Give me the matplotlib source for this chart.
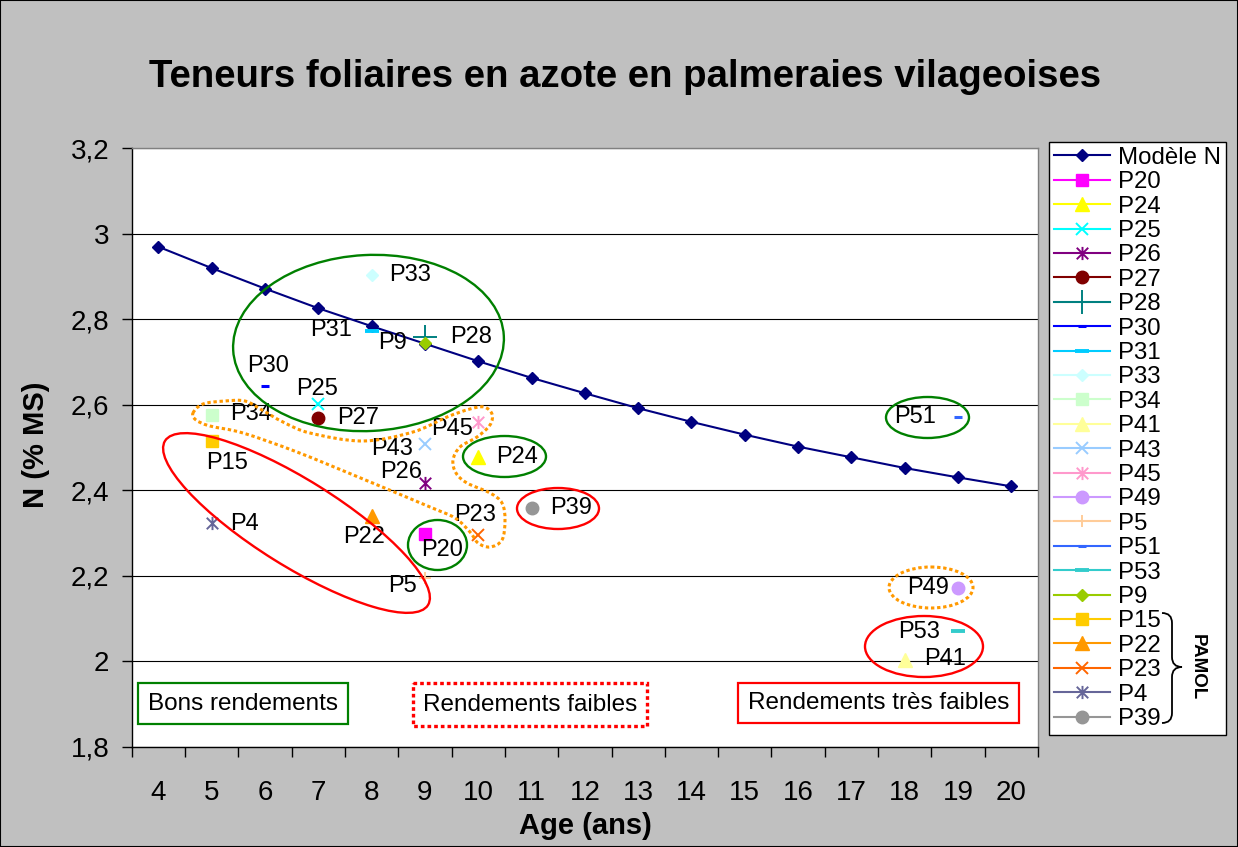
import numpy as np
import matplotlib
matplotlib.use('Agg')
import matplotlib.pyplot as plt
from matplotlib.patches import Ellipse, Rectangle, PathPatch
from matplotlib.path import Path
from matplotlib.transforms import Affine2D

plt.rcParams['font.family'] = ['Liberation Sans', 'DejaVu Sans']

# --- data -------------------------------------------------------------
ages = list(range(4, 21))
model_n = [2.97, 2.92, 2.872, 2.826, 2.784, 2.743, 2.702, 2.663, 2.627,
           2.592, 2.560, 2.530, 2.502, 2.477, 2.452, 2.430, 2.409]

plot_names = ['P20', 'P24', 'P25', 'P26', 'P27', 'P28', 'P30', 'P31', 'P33',
              'P34', 'P41', 'P43', 'P45', 'P49', 'P5', 'P51', 'P53', 'P9',
              'P15', 'P22', 'P23', 'P4', 'P39']
plot_age = [9, 10, 7, 9, 7, 9, 6, 8, 8, 5, 18, 9, 10, 19, 9, 19, 19, 9,
            5, 8, 10, 5, 11]
plot_n = [2.297, 2.477, 2.603, 2.418, 2.568, 2.759, 2.644, 2.772, 2.905,
          2.576, 2.003, 2.508, 2.560, 2.171, 2.195, 2.572, 2.071, 2.745,
          2.516, 2.340, 2.296, 2.323, 2.358]

y_ticks = [1.8, 2.0, 2.2, 2.4, 2.6, 2.8, 3.0, 3.2]
y_tick_labels = ['1,8', '2', '2,2', '2,4', '2,6', '2,8', '3', '3,2']

title = 'Teneurs foliaires en azote en palmeraies vilageoises'

# --- styles -----------------------------------------------------------
AST = Path([(-1, -1), (1, 1), (-1, 1), (1, -1), (0, -1.15), (0, 1.15)],
           [Path.MOVETO, Path.LINETO, Path.MOVETO, Path.LINETO,
            Path.MOVETO, Path.LINETO])

# color, marker, markersize, markeredgewidth
styles = {
    'P20': ('#FF00FF', 's', 8.5, 1.0),
    'P24': ('#FFFF00', '^', 9.5, 1.0),
    'P25': ('#00FFFF', 'x', 9, 1.4),
    'P26': ('#800080', AST, 9.5, 1.4),
    'P27': ('#800000', 'o', 9, 1.0),
    'P28': ('#008080', '+', 17, 1.4),
    'P30': ('#0000FF', '_', 5.5, 2.2),
    'P31': ('#00CCFF', '_', 9.5, 2.8),
    'P33': ('#CCFFFF', 'D', 6.5, 1.0),
    'P34': ('#CCFFCC', 's', 8.5, 1.0),
    'P41': ('#FFFF99', '^', 9.5, 1.0),
    'P43': ('#99CCFF', 'x', 9, 1.4),
    'P45': ('#FF99CC', AST, 9.5, 1.4),
    'P49': ('#CC99FF', 'o', 9, 1.0),
    'P5': ('#FFCC99', '+', 9, 1.4),
    'P51': ('#3366FF', '_', 5.5, 2.2),
    'P53': ('#33CCCC', '_', 9.5, 2.8),
    'P9': ('#99CC00', 'D', 6.5, 1.0),
    'P15': ('#FFCC00', 's', 8.5, 1.0),
    'P22': ('#FF9900', '^', 9.5, 1.0),
    'P23': ('#FF6600', 'x', 9, 1.4),
    'P4': ('#666699', AST, 9.5, 1.4),
    'P39': ('#969696', 'o', 9, 1.0),
}

# label offsets in pixels (dx, dy up) and horizontal alignment
label_pos = {
    'P33': (18, 0, 'left'), 'P31': (-20, 1, 'right'), 'P9': (-18, 0, 'right'),
    'P28': (25, 0, 'left'), 'P30': (3, 20, 'center'), 'P25': (-1, 15, 'center'),
    'P27': (19, 0, 'left'), 'P34': (18, 1, 'left'), 'P15': (15, -22, 'center'),
    'P45': (-5, -7, 'right'), 'P43': (-12, -5, 'right'), 'P26': (-3, 11, 'right'),
    'P4': (18, -1, 'left'), 'P22': (-8, -21, 'center'), 'P20': (17, -16, 'center'),
    'P5': (-8, -8, 'right'), 'P23': (-3, 20, 'center'), 'P24': (18, 0, 'left'),
    'P39': (19, 0, 'left'), 'P51': (-22, 0, 'right'), 'P49': (-9, 0, 'right'),
    'P53': (-18, -1, 'right'), 'P41': (19, 1, 'left'),
}

W, H = 1238, 847
fig = plt.figure(figsize=(W / 100, H / 100), dpi=100, facecolor='#C0C0C0')
pix = Affine2D().scale(1 / W, -1 / H).translate(0, 1) + fig.transFigure

ax = fig.add_axes([131.7 / W, 1 - 746.5 / H, (1038 - 131.7) / W, (746.5 - 148.5) / H])
ax.set_facecolor('white')
ax.set_xlim(3.5, 20.5)
ax.set_ylim(1.8, 3.2)

for s in ['top', 'right']:
    ax.spines[s].set_color('#808080')
for s in ['left', 'bottom']:
    ax.spines[s].set_color('black')
for s in ax.spines.values():
    s.set_linewidth(1.0)

ax.set_yticks(y_ticks)
ax.set_yticklabels(y_tick_labels)
ax.set_xticks(np.arange(3.5, 21, 1.0))
ax.set_xticklabels([])
ax.set_xticks(ages, minor=True)
ax.set_xticklabels([str(a) for a in ages], minor=True)
ax.tick_params(axis='y', which='major', length=7, width=1, pad=9, labelsize=20)
ax.tick_params(axis='x', which='major', length=7, width=1)
ax.tick_params(axis='x', which='minor', length=0, pad=24, labelsize=20)
ax.yaxis.grid(True, color='black', linewidth=0.8)
ax.set_axisbelow(True)

model_line, = ax.plot(ages, model_n, color='#000080', lw=1.5, marker='D',
                      ms=6.5, mfc='#000080', mec='#000080', label='Modèle N', zorder=3)

handles = [model_line]
for name, a, n in zip(plot_names, plot_age, plot_n):
    c, m, ms, mew = styles[name]
    ln, = ax.plot([a], [n], color=c, lw=1.5, marker=m, ms=ms, mfc=c, mec=c,
                  mew=mew, label=name, zorder=4)
    handles.append(ln)
    dx, dy, ha = label_pos[name]
    ax.annotate(name, (a, n), xytext=(dx, dy), textcoords='offset pixels',
                ha=ha, va='center', fontsize=17, zorder=5)

leg = fig.legend(handles, [h.get_label() for h in handles], loc='upper left',
                 bbox_to_anchor=(1049 / W, 1 - 142 / H), borderaxespad=0,
                 fancybox=False, edgecolor='black', framealpha=1, fontsize=17.3,
                 labelspacing=0.1, handlelength=2.33, handletextpad=0.34,
                 borderpad=0.2, numpoints=1)
leg.get_frame().set_linewidth(1.0)

# titles
fig.text(625 / W, 1 - 87 / H, title, ha='center', va='baseline',
         fontsize=27.6, fontweight='bold')
fig.text(585 / W, 1 - 834 / H, 'Age (ans)', ha='center', va='baseline',
         fontsize=21, fontweight='bold')
fig.text(36 / W, 1 - 445 / H, 'N (% MS)', ha='center', va='center',
         rotation=90, fontsize=21, fontweight='bold')

# --- annotations (image pixel coordinates) ----------------------------
GREEN, RED, ORANGE = '#008000', '#FF0000', '#FF9900'
dotted = (0, (1.1, 0.9))
rings = [
    (368.5, 343, 271, 176, -3, GREEN, '-'),
    (296.5, 523, 310, 86, 32, RED, '-'),
    (437.5, 545, 59, 50, 0, GREEN, '-'),
    (504.5, 456.5, 83, 41, 0, GREEN, '-'),
    (558, 508.5, 82, 41, 0, RED, '-'),
    (927.5, 417.5, 83, 41, 0, GREEN, '-'),
    (931, 587.5, 84, 41, 0, ORANGE, dotted),
    (924, 646.5, 118, 61, 0, RED, '-'),
]
for cx, cy, w, h, ang, col, ls in rings:
    lw = 2.2 if ls is dotted else 1.7
    fig.add_artist(Ellipse((cx, cy), w, h, angle=ang, transform=pix, fill=False,
                           edgecolor=col, linewidth=lw, linestyle=ls, zorder=6))

# free-form dotted outline (closed Catmull-Rom curve drawn as Bezier path)
blob = np.array([(193, 413), (203, 404), (225, 401), (245, 401), (262, 410),
                 (283, 422), (310, 433), (363, 441), (413, 432), (447, 417),
                 (470, 409), (484, 407), (492, 414), (490, 425), (477, 437),
                 (460, 447), (453, 460), (456, 473), (467, 483), (490, 493),
                 (502, 503), (505, 520), (502, 540), (490, 547), (478, 543),
                 (470, 532), (455, 518), (430, 507), (363, 479), (297, 452),
                 (243, 433), (210, 426), (196, 420)], dtype=float)
nb = len(blob)
verts = [blob[0]]
codes = [Path.MOVETO]
for i in range(nb):
    p0, p1, p2, p3 = blob[i - 1], blob[i], blob[(i + 1) % nb], blob[(i + 2) % nb]
    verts += [p1 + (p2 - p0) / 6, p2 - (p3 - p1) / 6, p2]
    codes += [Path.CURVE4] * 3
fig.add_artist(PathPatch(Path(verts, codes), transform=pix, fill=False,
                         edgecolor=ORANGE, linewidth=2.2, linestyle=dotted, zorder=6))

# text boxes
boxes = [
    ('Bons rendements', 138, 683, 348, 724, GREEN, '-'),
    ('Rendements faibles', 413, 683, 647, 726, RED, dotted),
    ('Rendements très faibles', 738, 683, 1019, 723, RED, '-'),
]
for txt, x0, y0, x1, y1, col, ls in boxes:
    lw = 2.4 if ls is dotted else 1.6
    fig.add_artist(Rectangle((x0, y0), x1 - x0, y1 - y0, transform=pix,
                             facecolor='white', edgecolor=col, linewidth=lw,
                             linestyle=ls, zorder=6))
    fig.text((x0 + x1) / 2 / W, 1 - (y0 + y1) / 2 / H, txt, ha='center',
             va='center', fontsize=17.5, zorder=7)

# PAMOL brace in the legend
brace = Path([(1162, 613), (1172, 613), (1172, 623), (1172, 657),
              (1172, 667), (1182, 667), (1172, 667), (1172, 677),
              (1172, 713), (1172, 723), (1162, 723)],
             [Path.MOVETO, Path.CURVE3, Path.CURVE3, Path.LINETO,
              Path.CURVE3, Path.CURVE3, Path.CURVE3, Path.CURVE3,
              Path.LINETO, Path.CURVE3, Path.CURVE3])
fig.add_artist(PathPatch(brace, transform=pix, fill=False, edgecolor='black',
                         linewidth=1.3, zorder=8))
fig.text(1197 / W, 1 - 667 / H, 'PAMOL', rotation=-90, ha='center', va='center',
         fontsize=13.5, fontweight='bold', zorder=8)

# outer border
fig.add_artist(Rectangle((0, 0), 1, 1, transform=fig.transFigure, fill=False,
                         edgecolor='black', linewidth=1.5, zorder=10))

fig.savefig('out.png', dpi=100, facecolor=fig.get_facecolor())
